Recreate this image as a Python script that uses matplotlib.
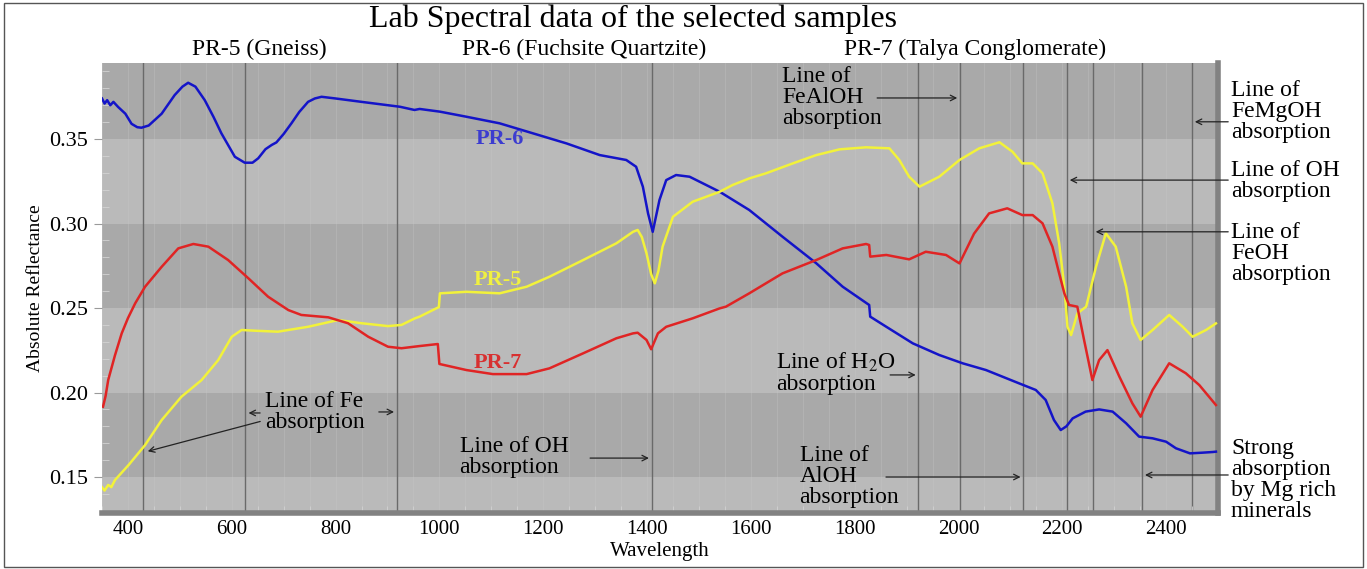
import numpy as np
import matplotlib
matplotlib.use('Agg')
import matplotlib.pyplot as plt
from matplotlib.patches import Rectangle

plt.rcParams['font.family'] = ['Liberation Serif', 'DejaVu Serif']
plt.rcParams['mathtext.fontset'] = 'stix'

# spectra (wavelength in nm, absolute reflectance)
pr6_nm = [350, 355, 360, 366, 372, 381, 395, 407, 418, 426, 440, 465, 490, 505, 516, 530,
          548, 565, 580, 606, 625, 640, 651, 665, 677, 686, 700, 715, 730, 747, 760, 773,
          800, 850, 924, 952, 962, 1001, 1052, 1116, 1180, 1245, 1309, 1360, 1379, 1392,
          1402, 1411, 1424, 1437, 1456, 1482, 1514, 1540, 1597, 1661, 1726, 1777, 1828,
          1830, 1861, 1912, 1963, 2008, 2053, 2117, 2149, 2168, 2184, 2197, 2208, 2220,
          2245, 2271, 2297, 2323, 2348, 2374, 2400, 2419, 2446, 2470, 2490, 2496]
pr6_val = [0.374, 0.371, 0.373, 0.370, 0.372, 0.369, 0.365, 0.359, 0.357, 0.3567, 0.358,
           0.365, 0.376, 0.381, 0.3833, 0.381, 0.373, 0.363, 0.3534, 0.3395, 0.336, 0.336,
           0.3386, 0.344, 0.3465, 0.348, 0.353, 0.3593, 0.366, 0.372, 0.374, 0.375, 0.374,
           0.372, 0.3691, 0.3672, 0.3678, 0.3662, 0.3632, 0.3593, 0.3534, 0.3474, 0.3405,
           0.3376, 0.3336, 0.3218, 0.306, 0.2951, 0.3139, 0.3257, 0.3287, 0.3277, 0.3228,
           0.3188, 0.308, 0.2922, 0.2765, 0.2626, 0.2518, 0.2449, 0.2389, 0.2291, 0.2222,
           0.2173, 0.2133, 0.2054, 0.2015, 0.1956, 0.1837, 0.1778, 0.1800, 0.1847, 0.1887,
           0.1900, 0.1887, 0.1818, 0.1739, 0.1729, 0.1709, 0.1670, 0.1640, 0.1644, 0.1648,
           0.1650]

pr5_nm = [349, 355, 362, 368, 375, 401, 433, 465, 503, 542, 574, 600, 619, 650, 689, 747,
          805, 850, 901, 927, 953, 962, 994, 999, 1001, 1052, 1116, 1168, 1212, 1277, 1341,
          1373, 1382, 1390, 1399, 1408, 1415, 1422, 1430, 1450, 1488, 1540, 1565, 1597,
          1629, 1681, 1726, 1771, 1822, 1867, 1886, 1905, 1925, 1963, 2002, 2040, 2079,
          2104, 2123, 2143, 2162, 2181, 2194, 2204, 2210, 2217, 2229, 2246, 2265, 2284,
          2303, 2323, 2335, 2351, 2374, 2406, 2432, 2451, 2477, 2496]
pr5_val = [0.1443, 0.1420, 0.1453, 0.1440, 0.1482, 0.1570, 0.1689, 0.1837, 0.1975, 0.2074,
           0.2192, 0.2330, 0.2370, 0.2365, 0.2360, 0.2389, 0.2429, 0.2410, 0.2393, 0.2400,
           0.2439, 0.2449, 0.2498, 0.2505, 0.2587, 0.2596, 0.2587, 0.2626, 0.2685, 0.2784,
           0.2883, 0.2951, 0.2962, 0.2920, 0.2824, 0.2700, 0.2646, 0.2720, 0.2863, 0.3040,
           0.3129, 0.3188, 0.3228, 0.3267, 0.3297, 0.3356, 0.3405, 0.3439, 0.3451, 0.3445,
           0.3376, 0.3277, 0.3218, 0.3277, 0.3376, 0.3445, 0.3481, 0.3425, 0.3356, 0.3356,
           0.3297, 0.3120, 0.2883, 0.2626, 0.2389, 0.2340, 0.2468, 0.2508, 0.2744, 0.2942,
           0.2863, 0.2626, 0.2409, 0.2311, 0.2370, 0.2459, 0.2389, 0.2330, 0.2370, 0.2409]

pr7_nm = [352, 357, 362, 375, 388, 400, 414, 433, 465, 497, 526, 555, 593, 632, 670, 709,
          734, 786, 824, 863, 901, 927, 962, 997, 1000, 1052, 1103, 1168, 1212, 1277, 1341,
          1373, 1382, 1399, 1408, 1421, 1437, 1488, 1540, 1552, 1597, 1661, 1726, 1777,
          1822, 1828, 1830, 1861, 1905, 1937, 1976, 2002, 2030, 2059, 2094, 2123, 2143,
          2162, 2181, 2194, 2204, 2213, 2229, 2242, 2258, 2271, 2287, 2310, 2335, 2351,
          2374, 2406, 2438, 2464, 2496]
pr7_val = [0.1916, 0.1980, 0.2074, 0.2220, 0.2350, 0.2440, 0.2528, 0.2626, 0.2744, 0.2853,
           0.2879, 0.2863, 0.2784, 0.2676, 0.2567, 0.2488, 0.2459, 0.2445, 0.2410, 0.2330,
           0.2271, 0.2262, 0.2275, 0.2287, 0.2169, 0.2133, 0.2109, 0.2109, 0.2143, 0.2232,
           0.2321, 0.2350, 0.2354, 0.2311, 0.2256, 0.2350, 0.2389, 0.2439, 0.2498, 0.2508,
           0.2587, 0.2705, 0.2784, 0.2853, 0.2879, 0.2873, 0.2804, 0.2814, 0.2788, 0.2833,
           0.2814, 0.2764, 0.2940, 0.3060, 0.3090, 0.3050, 0.3050, 0.3001, 0.2863, 0.2705,
           0.2587, 0.2518, 0.2508, 0.2311, 0.2074, 0.2192, 0.2251, 0.2094, 0.1936, 0.1857,
           0.2015, 0.2173, 0.2114, 0.2044, 0.1926]

# absorption feature lines (nm)
feature_nm = [429, 626, 918, 1409, 1923, 2003, 2125, 2209, 2259, 2354, 2450]
x_ticks = [400, 600, 800, 1000, 1200, 1400, 1600, 1800, 2000, 2200, 2400]
y_ticks = [0.15, 0.20, 0.25, 0.30, 0.35]

fig = plt.figure(figsize=(13.67, 5.69), dpi=100)
ax = fig.add_axes([0.0746, 0.0984, 0.8164, 0.7909])
ax.set_xlim(350, 2500)
ax.set_ylim(0.1287, 0.395)
ax.set_facecolor('none')

# alternating grey bands
edges = [0.1287, 0.15, 0.20, 0.25, 0.30, 0.35, 0.395]
for i in range(len(edges) - 1):
    c = '#bababa' if i % 2 == 0 else '#a9a9a9'
    ax.axhspan(edges[i], edges[i + 1], color=c, zorder=0, lw=0)

for x in np.arange(350, 2500, 50):
    ax.axvline(x, color='#c6c6c6', lw=0.6, alpha=0.4, zorder=0.5)
for x in feature_nm:
    ax.axvline(x, color='#6a6a6a', lw=1.0, zorder=1)

ax.plot(pr6_nm, pr6_val, color='#1414c8', lw=1.8, zorder=3)
ax.plot(pr5_nm, pr5_val, color='#f2f23a', lw=1.8, zorder=3)
ax.plot(pr7_nm, pr7_val, color='#e02424', lw=1.8, zorder=3)

ax.text(1116, 0.350, 'PR-6', color='#3c3cd0', fontsize=16, fontweight='bold', ha='center', va='center', zorder=4)
ax.text(1112, 0.2666, 'PR-5', color='#f0f040', fontsize=16, fontweight='bold', ha='center', va='center', zorder=4)
ax.text(1112, 0.2175, 'PR-7', color='#d83030', fontsize=16, fontweight='bold', ha='center', va='center', zorder=4)

ap = dict(arrowstyle='->', color='#222222', lw=0.9)
fs = 17
# Fe
ax.text(664, 0.1885, 'Line of Fe\nabsorption', fontsize=fs, ha='left', va='center', linespacing=1.0, zorder=4)
ax.annotate('', xy=(627, 0.1879), xytext=(660, 0.1879), arrowprops=ap)
ax.annotate('', xy=(918, 0.1885), xytext=(878, 0.1885), arrowprops=ap)
ax.annotate('', xy=(433, 0.1648), xytext=(660, 0.1833), arrowprops=ap)
# OH lower
ax.text(1039, 0.1618, 'Line of OH\nabsorption', fontsize=fs, ha='left', va='center', linespacing=1.0, zorder=4)
ax.annotate('', xy=(1409, 0.1612), xytext=(1285, 0.1612), arrowprops=ap)
# FeAlOH
ax.text(1661, 0.3743, 'Line of\nFeAlOH\nabsorption', fontsize=fs, ha='left', va='center', linespacing=1.0, zorder=4)
ax.annotate('', xy=(2003, 0.3743), xytext=(1838, 0.3743), arrowprops=ap)
# H2O
ax.text(1649, 0.2115, 'Line of H$_2$O\nabsorption', fontsize=fs, ha='left', va='center', linespacing=1.0, zorder=4)
ax.annotate('', xy=(1923, 0.2104), xytext=(1863, 0.2104), arrowprops=ap)
# AlOH
ax.text(1694, 0.1506, 'Line of\nAlOH\nabsorption', fontsize=fs, ha='left', va='center', linespacing=1.0, zorder=4)
ax.annotate('', xy=(2125, 0.1500), xytext=(1855, 0.1500), arrowprops=ap)

# labels right of the plot
right = [('Line of\nFeMgOH\nabsorption', 0.3660, 0.3602, 2450),
         ('Line of OH\nabsorption', 0.3251, 0.3257, 2209),
         ('Line of\nFeOH\nabsorption', 0.2825, 0.2951, 2259),
         ('Strong\nabsorption\nby Mg rich\nminerals', 0.1482, 0.1512, 2354)]
for txt, ty, ay, hx in right:
    ax.text(2525, ty, txt, fontsize=fs, ha='left', va='center', linespacing=1.0, clip_on=False)
    ax.annotate('', xy=(hx, ay), xytext=(2525, ay), arrowprops=ap, annotation_clip=False)

ax.set_xticks(x_ticks)
ax.set_yticks(y_ticks)
ax.set_yticklabels(['%.2f' % v for v in y_ticks])
ax.set_xticks(np.arange(350, 2500, 50), minor=True)
ax.set_yticks(np.arange(0.13, 0.395, 0.01), minor=True)
ax.tick_params(axis='x', which='major', length=0, labelsize=15, pad=5)
ax.tick_params(axis='x', which='minor', direction='in', length=5, color='#d2d2d2')
ax.tick_params(axis='y', which='major', direction='out', length=6, color='#9a9a9a', labelsize=16, pad=4)
ax.tick_params(axis='y', which='minor', direction='in', length=5, color='#d2d2d2')

for s in ['left', 'top']:
    ax.spines[s].set_visible(False)
for s in ['right', 'bottom']:
    ax.spines[s].set_color('#828282')
    ax.spines[s].set_linewidth(4)

ax.set_xlabel('Wavelength', fontsize=15, labelpad=2)
ax.set_ylabel('Absolute Reflectance', fontsize=14, labelpad=4)

fig.text(0.463, 0.966, 'Lab Spectral data of the selected samples', fontsize=23, ha='center', va='center')
fig.text(0.190, 0.913, 'PR-5 (Gneiss)', fontsize=17, ha='center', va='center')
fig.text(0.427, 0.913, 'PR-6 (Fuchsite Quartzite)', fontsize=17, ha='center', va='center')
fig.text(0.713, 0.913, 'PR-7 (Talya Conglomerate)', fontsize=17, ha='center', va='center')

fig.patches.append(Rectangle((0.003, 0.004), 0.994, 0.991, transform=fig.transFigure,
                             fill=False, edgecolor='#555555', lw=1))

fig.savefig('out.png', dpi=100)
